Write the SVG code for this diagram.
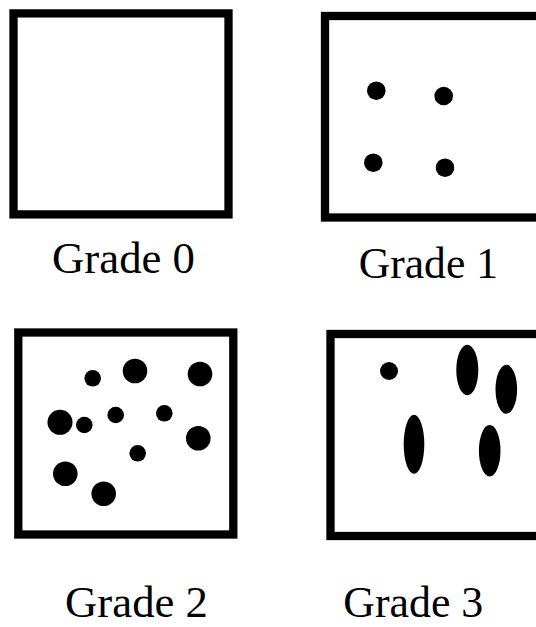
<svg xmlns="http://www.w3.org/2000/svg" width="536" height="627" viewBox="0 0 536 627">
<style>
.box{fill:#fff;stroke:#000;stroke-width:8.3}
.dot{fill:#000}
.lbl{font-family:"Liberation Serif","Times New Roman",serif;fill:#000}
</style>
<rect width="536" height="627" fill="#fff"/>
<g id="grade0">
<rect class="box" x="13.5" y="13.4" width="215" height="201"/>
<text class="lbl" x="52" y="273" font-size="45" textLength="143" lengthAdjust="spacingAndGlyphs">Grade 0</text>
</g>
<g id="grade1">
<rect class="box" x="325" y="16" width="225" height="201.5"/>
<circle class="dot" cx="376.3" cy="90.7" r="9.3"/>
<circle class="dot" cx="443.7" cy="96" r="9.3"/>
<circle class="dot" cx="373.3" cy="162.7" r="9.3"/>
<circle class="dot" cx="445" cy="167.7" r="9.3"/>
<text class="lbl" x="358.7" y="278.3" font-size="44" textLength="139.3" lengthAdjust="spacingAndGlyphs">Grade 1</text>
</g>
<g id="grade2">
<rect class="box" x="18.3" y="332.5" width="215" height="202"/>
<circle class="dot" cx="92.7" cy="378.3" r="8.3"/>
<circle class="dot" cx="135" cy="371" r="12.3"/>
<circle class="dot" cx="200" cy="374" r="12.3"/>
<circle class="dot" cx="60" cy="422.3" r="12.5"/>
<circle class="dot" cx="84.3" cy="425" r="8.3"/>
<circle class="dot" cx="115.7" cy="415" r="8.3"/>
<circle class="dot" cx="164.3" cy="413.3" r="8.3"/>
<circle class="dot" cx="198.3" cy="438.3" r="12.3"/>
<circle class="dot" cx="137.7" cy="453.3" r="8.3"/>
<circle class="dot" cx="65.3" cy="473.7" r="12.3"/>
<circle class="dot" cx="103.7" cy="493.7" r="12.3"/>
<text class="lbl" x="65" y="616.5" font-size="45" textLength="143" lengthAdjust="spacingAndGlyphs">Grade 2</text>
</g>
<g id="grade3">
<rect class="box" x="330.5" y="334" width="225" height="202"/>
<circle class="dot" cx="389" cy="371" r="9"/>
<ellipse class="dot" cx="467.3" cy="370" rx="11" ry="25.3"/>
<ellipse class="dot" cx="506.3" cy="389.3" rx="10.8" ry="24.5"/>
<ellipse class="dot" cx="414" cy="444.3" rx="10.3" ry="29.5"/>
<ellipse class="dot" cx="489.7" cy="450.7" rx="10.8" ry="25.8"/>
<text class="lbl" x="343.3" y="616.5" font-size="45" textLength="140" lengthAdjust="spacingAndGlyphs">Grade 3</text>
</g>
</svg>
